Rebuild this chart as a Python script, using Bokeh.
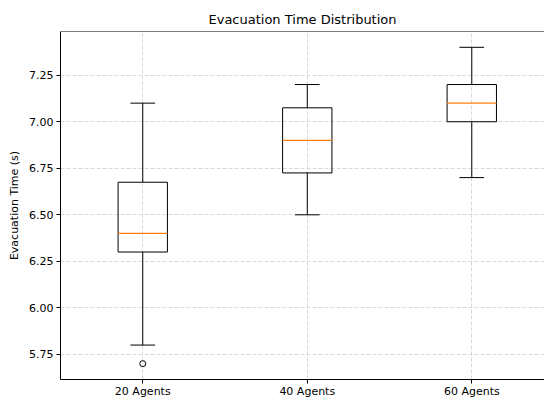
from bokeh.plotting import figure
from bokeh.models import Range1d, FixedTicker, Span, ColumnDataSource
from bokeh.embed import file_html
from bokeh.resources import INLINE

# ---- data ----
categories = ["20 Agents", "40 Agents", "60 Agents"]
lower_whisker = [5.8, 6.5, 6.7]
q1 = [6.3, 6.725, 7.0]
median = [6.4, 6.9, 7.1]
q3 = [6.675, 7.075, 7.2]
upper_whisker = [7.1, 7.2, 7.4]
outlier_group = ["20 Agents"]
outlier_values = [5.7]
y_ticks = [5.75, 6.00, 6.25, 6.50, 6.75, 7.00, 7.25]
y_tick_labels = ["5.75", "6.00", "6.25", "6.50", "6.75", "7.00", "7.25"]

FONT = "DejaVu Sans"
BOX_W = 0.3
CAP_W = 0.15

positions = [i + 1 for i in range(len(categories))]
pos_of = {c: x for c, x in zip(categories, positions)}

src = ColumnDataSource(dict(
    x=positions,
    left=[x - BOX_W / 2 for x in positions],
    right=[x + BOX_W / 2 for x in positions],
    cl=[x - CAP_W / 2 for x in positions],
    cr=[x + CAP_W / 2 for x in positions],
    lo=lower_whisker, q1=q1, med=median, q3=q3, hi=upper_whisker,
))

p = figure(width=544, height=400,
           x_range=Range1d(0.5, 3.442), y_range=Range1d(5.615, 7.485),
           output_backend="svg", toolbar_location=None,
           min_border_left=60, min_border_right=0, min_border_top=31,
           min_border_bottom=0,
           title="Evacuation Time Distribution")
p.outline_line_color = None
p.background_fill_color = "white"
p.border_fill_color = "white"

p.title.text_font = FONT
p.title.text_font_size = "13px"
p.title.text_font_style = "normal"
p.title.text_color = "black"
p.title.align = "center"
p.title.offset = 4

# top frame line
p.add_layout(Span(location=7.485, dimension="width", line_color="black", line_width=1))

# axes
p.xaxis.ticker = FixedTicker(ticks=positions)
p.xaxis.major_label_overrides = {x: c for x, c in zip(positions, categories)}
p.yaxis.ticker = FixedTicker(ticks=y_ticks)
p.yaxis.major_label_overrides = {t: l for t, l in zip(y_ticks, y_tick_labels)}
p.yaxis.axis_label = "Evacuation Time (s)"
for ax in (p.xaxis, p.yaxis):
    ax.axis_line_color = "black"
    ax.axis_line_width = 1
    ax.major_tick_line_color = "black"
    ax.major_tick_in = 0
    ax.major_tick_out = 4
    ax.minor_tick_line_color = None
    ax.major_label_text_font = FONT
    ax.major_label_text_font_size = "11px"
    ax.major_label_text_color = "black"
    ax.major_label_standoff = 3
p.xaxis.major_label_standoff = 1
ax = p.yaxis[0]
ax.axis_label_text_font = FONT
ax.axis_label_text_font_size = "11px"
ax.axis_label_text_font_style = "normal"
ax.axis_label_text_color = "black"
ax.axis_label_standoff = 5

for g in (p.xgrid, p.ygrid):
    g.grid_line_color = "#cfcfcf"
    g.grid_line_dash = "4 2"
    g.grid_line_width = 0.8

# whiskers
p.segment(x0="x", y0="q1", x1="x", y1="lo", source=src, line_color="black", line_width=1)
p.segment(x0="x", y0="q3", x1="x", y1="hi", source=src, line_color="black", line_width=1)
# caps
p.segment(x0="cl", y0="lo", x1="cr", y1="lo", source=src, line_color="black", line_width=1)
p.segment(x0="cl", y0="hi", x1="cr", y1="hi", source=src, line_color="black", line_width=1)
# boxes
p.quad(left="left", right="right", bottom="q1", top="q3", source=src,
       fill_color=None, line_color="black", line_width=1)
# medians
p.segment(x0="left", y0="med", x1="right", y1="med", source=src,
          line_color="#ff7f0e", line_width=1.2)
# outliers
p.scatter(x=[pos_of[g] for g in outlier_group], y=outlier_values, marker="circle",
          size=6, fill_color=None, line_color="black", line_width=1)

open("out.html", "w").write(file_html(p, INLINE))
